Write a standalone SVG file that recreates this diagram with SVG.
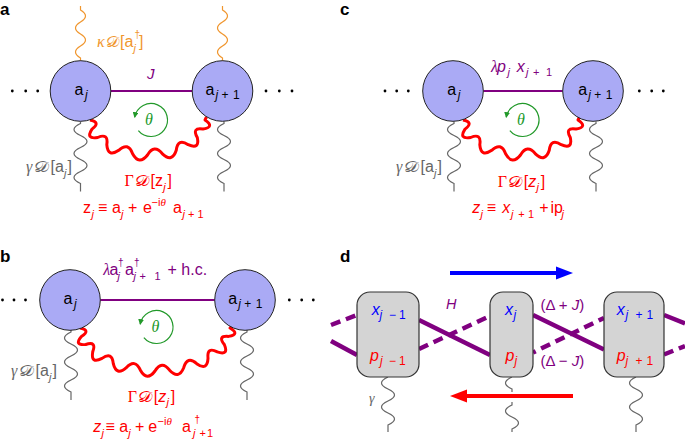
<svg xmlns="http://www.w3.org/2000/svg" xmlns:xlink="http://www.w3.org/1999/xlink" width="685" height="442" viewBox="0 0 685 442">
<defs>
<style>
.s{font-family:"Liberation Sans",Arial,sans-serif}
.m{font-family:"Liberation Serif","Times New Roman",serif;font-style:italic}
.up{font-family:"Liberation Serif","Times New Roman",serif;font-style:normal}
.cal{font-family:"DejaVu Serif","DejaVu Sans","Noto Sans",serif;font-style:normal;font-size:15px}
.i{font-style:italic}
.bold{font-family:"Liberation Sans",Arial,sans-serif;font-weight:bold;font-size:17px}
.node{fill:#aaaaf5;stroke:#222;stroke-width:1}
.box{fill:#d4d4d4;stroke:#333;stroke-width:1.2}
.gw{fill:none;stroke:#666;stroke-width:1.2}
.ow{fill:none;stroke:#f0962e;stroke-width:1.2}
.rw{fill:none;stroke:#ff0000;stroke-width:3;stroke-linejoin:round}
.th{fill:none;stroke:#22992a;stroke-width:1.2;marker-end:url(#ah)}
.cp{stroke:#800080;stroke-width:2.2}
.pl{fill:none;stroke:#800080;stroke-width:4.5}
.dash{stroke-dasharray:10 6}
.pu{fill:#800080}
.rd{fill:#ff0000}
.gr{fill:#666}
.gn{fill:#22992a}
.or{fill:#f0962e}
.bl{fill:#0000ff}
</style>
<marker id="ah" viewBox="0 0 6 6" refX="5" refY="3" markerWidth="6" markerHeight="6" markerUnits="userSpaceOnUse" orient="auto"><path d="M0,0 L6,3 L0,6 z" fill="#22992a"/></marker>
<path id="gw70" d="M0,0 l0,2 q-13,6 0,12 t0,12 t0,12 t0,12 t0,12 l0,8"/>
<path id="ow55" d="M0,0 l0,4 q10,6 0,12 t0,12 t0,12 t0,12 l0,3"/>
<path id="rwA" d="M90,120 Q101.2,122.3 92,129.1 Q85.3,139.6 97.7,137.5 Q108.7,132.7 106.8,144.7 Q107.8,157.8 118.75,150.3 Q128.2,141.6 132.6,153.8 Q139.1,165.7 147.5,155 Q154.1,143.7 162.4,153.8 Q172.2,163 176.25,150.3 Q177.8,137.8 188.2,144.7 Q199.9,149.9 197.3,137.5 Q191.5,127.2 203,129.1 Q215.2,126.9 205,120 L206.5,117"/>
</defs>

<!-- panel letters -->
<text class="bold" x="0" y="14.5">a</text>
<text class="bold" x="340" y="14.5">c</text>
<text class="bold" x="0" y="262">b</text>
<text class="bold" x="340" y="262">d</text>

<!-- ===== Panel a ===== -->
<g id="a-connectors">
  <line class="cp" x1="110.8" y1="91" x2="192.2" y2="91"/>
  <use xlink:href="#ow55" class="ow" x="80.5" y="6"/>
  <use xlink:href="#ow55" class="ow" x="222.5" y="6"/>
  <use xlink:href="#gw70" class="gw" x="80.5" y="121.5"/>
  <use xlink:href="#gw70" class="gw" x="224" y="121.5"/>
  <use xlink:href="#rwA" class="rw"/>
  <path class="th" transform="translate(151,120)" d="M-12.64,10.6 A16.5,16.5 0 1 0 -16.25,-2.87"/>
</g>
<g id="a-dots" fill="#000">
  <circle cx="12.3" cy="91" r="1.4"/><circle cx="25.7" cy="91" r="1.4"/><circle cx="37.7" cy="91" r="1.4"/>
  <circle cx="266" cy="91" r="1.4"/><circle cx="279.3" cy="91" r="1.4"/><circle cx="292" cy="91" r="1.4"/>
</g>
<g id="a-node-aj">
  <circle class="node" cx="80.5" cy="91" r="30.3"/>
  <text class="s" font-size="16" x="74.5" y="94.5">a<tspan class="i" font-size="12" x="85" y="98.5">j</tspan></text>
</g>
<g id="a-node-aj1">
  <circle class="node" cx="222.5" cy="91" r="30.3"/>
  <text class="s" font-size="16" x="205.5" y="94.5">a<tspan class="i" font-size="12" x="215.5" y="98.5">j</tspan><tspan font-size="12" x="221.5" y="98.5">+</tspan><tspan font-size="12" x="233" y="98.5">1</tspan></text>
</g>
<g id="a-labels">
  <text class="s or" font-size="16"><tspan class="m" x="97" y="47">κ</tspan><tspan class="cal" x="105.5" y="47" textLength="13.5" lengthAdjust="spacingAndGlyphs">𝒟</tspan><tspan x="120" y="47">[a</tspan><tspan font-size="10" x="134.5" y="38">†</tspan><tspan class="i" font-size="11" x="133.5" y="51.5">j</tspan><tspan x="139" y="47">]</tspan></text>
  <text class="s i pu" font-size="15" x="147" y="79">J</text>
  <text class="m gn" font-size="16" x="145" y="125">θ</text>
  <text class="s gr" font-size="16"><tspan class="m" x="26" y="172">γ</tspan><tspan class="cal" x="34" y="172" textLength="15" lengthAdjust="spacingAndGlyphs">𝒟</tspan><tspan x="50.5" y="172">[a</tspan><tspan class="i" font-size="11" x="64" y="176.5">j</tspan><tspan x="67.5" y="172">]</tspan></text>
  <text class="s rd" font-size="16"><tspan class="up" x="124.5" y="186">Γ</tspan><tspan class="cal" x="135" y="186" textLength="14.5" lengthAdjust="spacingAndGlyphs">𝒟</tspan><tspan x="150.5" y="186">[z</tspan><tspan class="i" font-size="11" x="163.3" y="190.5">j</tspan><tspan x="167.5" y="186">]</tspan></text>
  <text class="s rd" font-size="16"><tspan x="83" y="213">z</tspan><tspan class="i" font-size="11" x="91.5" y="217.5">j</tspan><tspan x="98" y="213">≡</tspan><tspan x="112" y="213">a</tspan><tspan class="i" font-size="11" x="121" y="217.5">j</tspan><tspan x="128" y="213">+</tspan><tspan x="143" y="213">e</tspan><tspan font-size="11" x="151.5" y="206">−i</tspan><tspan class="m" font-size="11" x="160.5" y="206">θ</tspan><tspan x="173" y="213">a</tspan><tspan class="i" font-size="11" x="182.5" y="217.5">j</tspan><tspan font-size="11" x="188" y="217.5">+</tspan><tspan font-size="11" x="197.5" y="217.5">1</tspan></text>
</g>

<!-- ===== Panel c ===== -->
<g id="c-connectors">
  <line class="cp" x1="483.3" y1="91" x2="562.7" y2="91"/>
  <use xlink:href="#gw70" class="gw" x="454" y="121.5"/>
  <use xlink:href="#gw70" class="gw" x="596" y="121.5"/>
  <use xlink:href="#rwA" class="rw" x="373"/>
  <path class="th" transform="translate(522.5,120)" d="M-12.64,10.6 A16.5,16.5 0 1 0 -16.25,-2.87"/>
</g>
<g id="c-dots" fill="#000">
  <circle cx="385" cy="91" r="1.4"/><circle cx="396.7" cy="91" r="1.4"/><circle cx="408.3" cy="91" r="1.4"/>
  <circle cx="639.3" cy="91" r="1.4"/><circle cx="651.7" cy="91" r="1.4"/><circle cx="663.3" cy="91" r="1.4"/>
</g>
<g id="c-node-aj">
  <circle class="node" cx="453" cy="91" r="30.3"/>
  <text class="s" font-size="16" x="447.3" y="94.5">a<tspan class="i" font-size="12" x="457.8" y="98.5">j</tspan></text>
</g>
<g id="c-node-aj1">
  <circle class="node" cx="593" cy="91" r="30.3"/>
  <text class="s" font-size="16" x="578.3" y="94.5">a<tspan class="i" font-size="12" x="588.3" y="98.5">j</tspan><tspan font-size="12" x="594.3" y="98.5">+</tspan><tspan font-size="12" x="605.8" y="98.5">1</tspan></text>
</g>
<g id="c-labels">
  <text class="s pu" font-size="16"><tspan class="m" x="491" y="71.5">λ</tspan><tspan class="i" x="497" y="71.5">p</tspan><tspan class="i" font-size="11" x="507.5" y="76">j</tspan><tspan class="i" x="516.7" y="71.5">x</tspan><tspan class="i" font-size="11" x="526" y="76">j</tspan><tspan font-size="11" x="533" y="76">+</tspan><tspan font-size="11" x="546" y="76">1</tspan></text>
  <text class="m gn" font-size="16" x="517" y="125">θ</text>
  <text class="s gr" font-size="16"><tspan class="m" x="396" y="172">γ</tspan><tspan class="cal" x="404" y="172" textLength="15" lengthAdjust="spacingAndGlyphs">𝒟</tspan><tspan x="420.5" y="172">[a</tspan><tspan class="i" font-size="11" x="434" y="176.5">j</tspan><tspan x="437.5" y="172">]</tspan></text>
  <text class="s rd" font-size="16"><tspan class="up" x="497.8" y="186.5">Γ</tspan><tspan class="cal" x="508.3" y="186.5" textLength="14.5" lengthAdjust="spacingAndGlyphs">𝒟</tspan><tspan x="523.8" y="186.5">[</tspan><tspan class="i" x="528.2" y="186.5">z</tspan><tspan class="i" font-size="11" x="536.6" y="191">j</tspan><tspan x="540.8" y="186.5">]</tspan></text>
  <text class="s rd" font-size="16"><tspan class="i" x="472.3" y="213">z</tspan><tspan class="i" font-size="11" x="480.5" y="217.5">j</tspan><tspan x="486.7" y="213">≡</tspan><tspan class="i" x="502.3" y="213">x</tspan><tspan class="i" font-size="11" x="511" y="217.5">j</tspan><tspan font-size="11" x="518.3" y="217.5">+</tspan><tspan font-size="11" x="528" y="217.5">1</tspan><tspan x="539.3" y="213">+</tspan><tspan x="550.5" y="213">ip</tspan><tspan class="i" font-size="11" x="561.5" y="217.5">j</tspan></text>
</g>

<!-- ===== Panel b ===== -->
<g id="b-connectors">
  <line class="cp" x1="100.3" y1="300" x2="214.7" y2="300"/>
  <use xlink:href="#gw70" class="gw" x="71" y="330"/>
  <use xlink:href="#gw70" class="gw" x="247" y="330"/>
  <path class="rw" d="M80,328 Q91.2,330.3 81.4,336.4 Q73.5,345.6 85.7,344.5 Q96.9,340.8 92.7,351.9 Q90.7,364.3 102,358.4 Q112.1,351.2 113.3,363.7 Q116.4,376.4 126.3,367.7 Q135.1,358.3 140.4,370.2 Q147,381.8 155,371 Q161.8,359.8 169.6,370.2 Q178.7,379.9 183.7,367.7 Q187.2,355.4 196.7,363.7 Q207.3,371.2 208,358.4 Q206.7,346.3 217.3,351.9 Q229.1,355.8 224.3,344.5 Q217.1,335.4 228.6,336.4 Q240.4,334.1 230,328 L232,326.5"/>
  <path class="th" transform="translate(156.5,327)" d="M-12.64,10.6 A16.5,16.5 0 1 0 -16.25,-2.87"/>
</g>
<g id="b-dots" fill="#000">
  <circle cx="2.5" cy="300" r="1.4"/><circle cx="14" cy="300" r="1.4"/><circle cx="25.5" cy="300" r="1.4"/>
  <circle cx="289.3" cy="300" r="1.4"/><circle cx="301.7" cy="300" r="1.4"/><circle cx="313.3" cy="300" r="1.4"/>
</g>
<g id="b-node-aj">
  <circle class="node" cx="70" cy="300" r="30.3"/>
  <text class="s" font-size="16" x="63.5" y="303.5">a<tspan class="i" font-size="12" x="74" y="307.5">j</tspan></text>
</g>
<g id="b-node-aj1">
  <circle class="node" cx="245" cy="300" r="30.3"/>
  <text class="s" font-size="16" x="228.3" y="303.5">a<tspan class="i" font-size="12" x="238.3" y="307.5">j</tspan><tspan font-size="12" x="244.3" y="307.5">+</tspan><tspan font-size="12" x="255.8" y="307.5">1</tspan></text>
</g>
<g id="b-labels">
  <text class="s pu" font-size="16"><tspan class="m" x="103.3" y="275">λ</tspan><tspan x="109.5" y="275">a</tspan><tspan font-size="10" x="118" y="266">†</tspan><tspan class="i" font-size="11" x="117.5" y="280">j</tspan><tspan x="125" y="275">a</tspan><tspan font-size="10" x="134" y="266">†</tspan><tspan class="i" font-size="11" x="133.5" y="280">j</tspan><tspan font-size="11" x="139.5" y="280">+</tspan><tspan font-size="11" x="154.5" y="280">1</tspan><tspan x="167.5" y="275">+ h.c.</tspan></text>
  <text class="m gn" font-size="16" x="151.5" y="331.5">θ</text>
  <text class="s gr" font-size="16"><tspan class="m" x="11" y="376">γ</tspan><tspan class="cal" x="19" y="376" textLength="15" lengthAdjust="spacingAndGlyphs">𝒟</tspan><tspan x="35.5" y="376">[a</tspan><tspan class="i" font-size="11" x="49" y="380.5">j</tspan><tspan x="52.5" y="376">]</tspan></text>
  <text class="s rd" font-size="16"><tspan class="up" x="127.8" y="401.5">Γ</tspan><tspan class="cal" x="138.3" y="401.5" textLength="14.5" lengthAdjust="spacingAndGlyphs">𝒟</tspan><tspan x="153.8" y="401.5">[</tspan><tspan class="i" x="158.2" y="401.5">z</tspan><tspan class="i" font-size="11" x="166.6" y="406">j</tspan><tspan x="170.8" y="401.5">]</tspan></text>
  <text class="s rd" font-size="16"><tspan class="i" x="93.3" y="432">z</tspan><tspan class="i" font-size="11" x="101.5" y="436.5">j</tspan><tspan x="105.5" y="432">≡</tspan><tspan x="119.3" y="432">a</tspan><tspan class="i" font-size="11" x="128.3" y="436.5">j</tspan><tspan x="135" y="432">+</tspan><tspan x="148.3" y="432">e</tspan><tspan font-size="11" x="157.5" y="425">−i</tspan><tspan class="m" font-size="11" x="166.5" y="425">θ</tspan><tspan x="182" y="432">a</tspan><tspan font-size="10" x="194.5" y="423">†</tspan><tspan class="i" font-size="11" x="193" y="437">j</tspan><tspan font-size="11" x="199.5" y="437">+</tspan><tspan font-size="11" x="207" y="437">1</tspan></text>
</g>

<!-- ===== Panel d ===== -->
<g id="d-connectors">
  <line class="pl dash" x1="331" y1="325" x2="357" y2="315"/>
  <line class="pl" x1="331" y1="341" x2="357" y2="355"/>
  <line class="pl" x1="419" y1="320" x2="490" y2="355"/>
  <line class="pl dash" x1="419" y1="349" x2="490" y2="316"/>
  <line class="pl" x1="533" y1="315" x2="604" y2="349.5"/>
  <line class="pl dash" x1="533" y1="352.5" x2="604" y2="318" stroke-dashoffset="7"/>
  <line class="pl" x1="664" y1="315" x2="685" y2="323.5"/>
  <line class="pl dash" x1="664" y1="354.5" x2="685" y2="346"/>
  <path class="gw" d="M388,377 q-13,6 0,12 t0,12 t0,12 t0,12 l0,7"/>
  <path class="gw" d="M512,377 q-13,6 0,12 l0,3"/>
  <path class="gw" d="M512,402 l0,3 q-13,6 0,12 t0,12 l0,3"/>
  <path class="gw" d="M636,377 q-13,6 0,12 t0,12 t0,12 t0,12 l0,7"/>
  <line x1="450" y1="273" x2="558" y2="273" stroke="#0000ff" stroke-width="4"/>
  <polygon points="556,266.5 573,273 556,279.5" fill="#0000ff"/>
  <line x1="573" y1="396" x2="465" y2="396" stroke="#ff0000" stroke-width="4"/>
  <polygon points="467,389.5 450,396 467,402.5" fill="#ff0000"/>
</g>
<g id="d-node-jm1">
  <rect class="box" x="357" y="292" width="62" height="85" rx="13"/>
  <text class="s bl" font-size="16"><tspan class="i" x="371.7" y="314.5">x</tspan><tspan class="i" font-size="12" x="379.5" y="319">j</tspan><tspan font-size="12" x="389" y="319">−</tspan><tspan font-size="12" x="399" y="319">1</tspan></text>
  <text class="s rd" font-size="16"><tspan class="i" x="370" y="360.5">p</tspan><tspan class="i" font-size="12" x="380" y="365">j</tspan><tspan font-size="12" x="389" y="365">−</tspan><tspan font-size="12" x="399" y="365">1</tspan></text>
</g>
<g id="d-node-j">
  <rect class="box" x="490" y="292" width="43" height="85" rx="13"/>
  <text class="s bl" font-size="16"><tspan class="i" x="505" y="314.5">x</tspan><tspan class="i" font-size="12" x="513.5" y="319">j</tspan></text>
  <text class="s rd" font-size="16"><tspan class="i" x="505.5" y="360.5">p</tspan><tspan class="i" font-size="12" x="514.5" y="365">j</tspan></text>
</g>
<g id="d-node-jp1">
  <rect class="box" x="604" y="292" width="60" height="85" rx="13"/>
  <text class="s bl" font-size="16"><tspan class="i" x="616.7" y="314.5">x</tspan><tspan class="i" font-size="12" x="625.5" y="319">j</tspan><tspan font-size="12" x="635.5" y="319">+</tspan><tspan font-size="12" x="646.5" y="319">1</tspan></text>
  <text class="s rd" font-size="16"><tspan class="i" x="616.7" y="360.5">p</tspan><tspan class="i" font-size="12" x="625.5" y="365">j</tspan><tspan font-size="12" x="635.5" y="365">+</tspan><tspan font-size="12" x="646.5" y="365">1</tspan></text>
</g>
<g id="d-labels">
  <text class="s i pu" font-size="14.5" x="446" y="309">H</text>
  <text class="s pu" font-size="15" x="540.5" y="310">(Δ + <tspan class="i">J</tspan>)</text>
  <text class="s pu" font-size="15" x="540.5" y="366">(Δ − <tspan class="i">J</tspan>)</text>
  <text class="m gr" font-size="14" x="369" y="403">γ</text>
</g>
</svg>
